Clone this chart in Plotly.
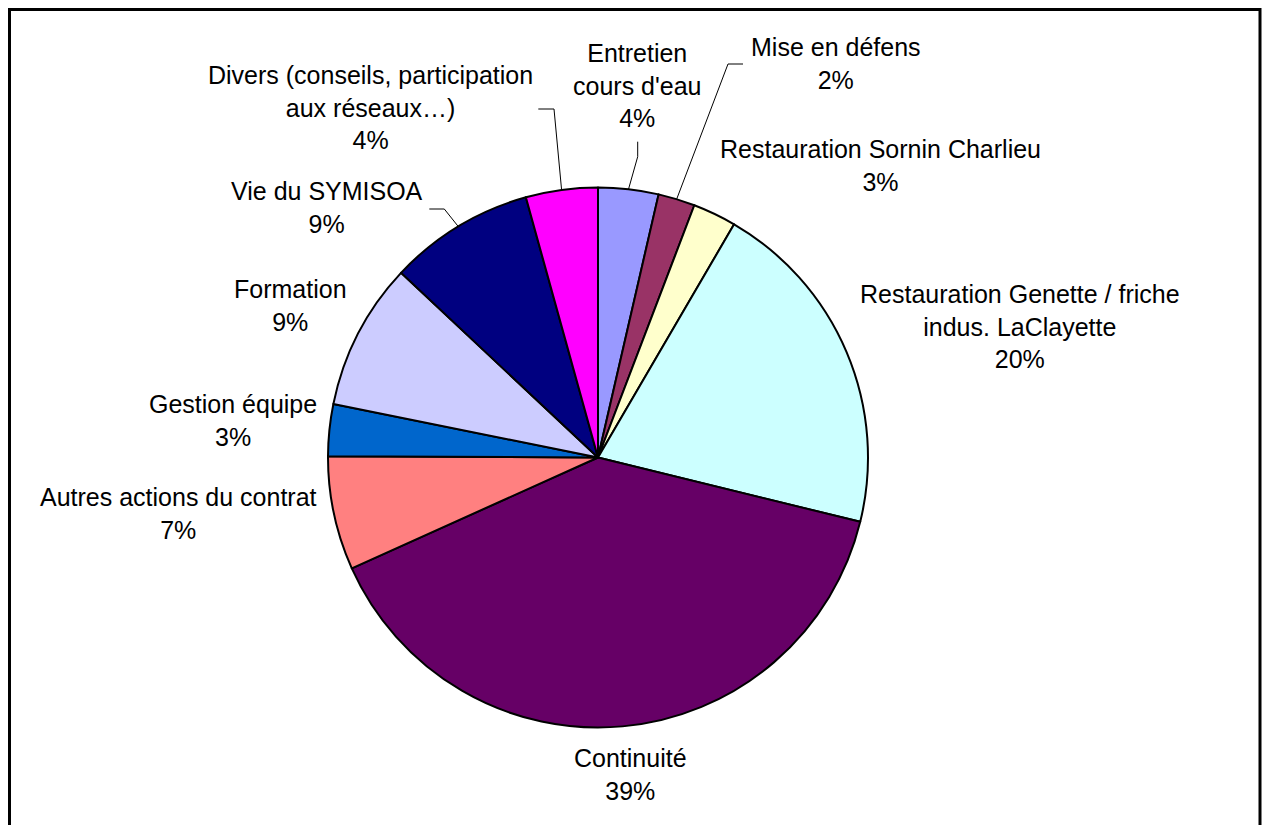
import math
import plotly.graph_objects as go

# ---- data ----
categories = ["Entretien cours d'eau", "Mise en défens", "Restauration Sornin Charlieu",
              "Restauration Genette / friche indus. LaClayette", "Continuité",
              "Autres actions du contrat", "Gestion équipe", "Formation",
              "Vie du SYMISOA", "Divers (conseils, participation aux réseaux…)"]
label_lines = ["Entretien<br>cours d'eau", "Mise en défens", "Restauration Sornin Charlieu",
               "Restauration Genette / friche<br>indus. LaClayette", "Continuité",
               "Autres actions du contrat", "Gestion équipe", "Formation",
               "Vie du SYMISOA", "Divers (conseils, participation<br>aux réseaux…)"]
values = [3.6, 2.2, 2.6, 20.4, 39.4, 6.8, 3.1, 8.8, 8.7, 4.3]
colors = ["#9999FF", "#993366", "#FFFFCC", "#CCFFFF", "#660066",
          "#FF8080", "#0066CC", "#CCCCFF", "#000080", "#FF00FF"]

# ---- layout (pixels) ----
W, H = 1263, 825
CX, CY, R = 598, 457.5, 270
label_pos = [(637, 85), (836, 63), (880, 166), (1020, 326), (630, 774),
             (178, 513), (233, 420.5), (290, 305.5), (327, 208), (370, 108)]
# leader lines: index -> (elbow point, end point near label)
leaders = {0: ((637.7, 156.7), (637.7, 141.7)),
           1: ((728, 64), (743, 64)),
           8: ((444.3, 209), (429.3, 209)),
           9: ((554, 109), (538.3, 109))}

def px(x):
    return x / W

def py(y):
    return (H - y) / H

total = sum(values)
fig = go.Figure(go.Pie(
    labels=categories, values=values, sort=False, direction="clockwise", rotation=0,
    marker=dict(colors=colors, line=dict(color="black", width=2)),
    textinfo="none", hoverinfo="label+percent", showlegend=False,
    domain=dict(x=[px(CX - R), px(CX + R)], y=[py(CY + R), py(CY - R)]),
))

annotations = []
for i, (txt, v) in enumerate(zip(label_lines, values)):
    pct = round(v / total * 100)
    x, y = label_pos[i]
    annotations.append(dict(x=px(x), y=py(y), xref="paper", yref="paper",
                            text=f"{txt}<br>{pct}%", showarrow=False,
                            xanchor="center", yanchor="middle", align="center",
                            font=dict(family="Liberation Sans, Arial", size=25, color="black")))

shapes = [dict(type="rect", xref="paper", yref="paper", x0=px(9.5), x1=px(1260),
               y0=py(H + 20), y1=py(9.5), line=dict(color="black", width=3))]
cum = 0
mids = []
for v in values:
    mids.append((cum + v / 2) / total * 2 * math.pi)
    cum += v
for i, (elbow, end) in leaders.items():
    a = mids[i]
    sx, sy = CX + R * math.sin(a), CY - R * math.cos(a)
    path = f"M {px(sx)} {py(sy)} L {px(elbow[0])} {py(elbow[1])} L {px(end[0])} {py(end[1])}"
    shapes.append(dict(type="path", xref="paper", yref="paper", path=path,
                       line=dict(color="black", width=1)))

fig.update_layout(width=W, height=H, margin=dict(l=0, r=0, t=0, b=0),
                  paper_bgcolor="white", plot_bgcolor="white",
                  annotations=annotations, shapes=shapes)
fig.write_html("out.html", config={"displayModeBar": False},
               post_script="document.body.style.margin='0';document.body.style.overflow='hidden';")
